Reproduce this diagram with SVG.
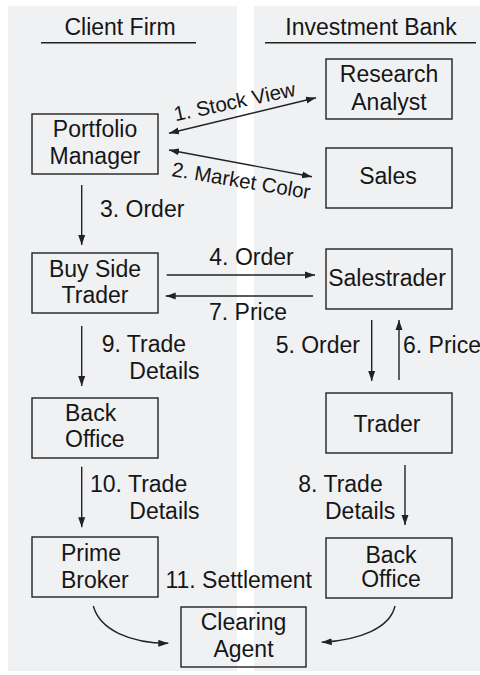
<svg xmlns="http://www.w3.org/2000/svg" width="480" height="675" viewBox="0 0 480 675">
<style>
text{font-family:"Liberation Sans",Arial,Helvetica,sans-serif;font-size:23px;fill:#161616}
.c{text-anchor:middle}
.e{text-anchor:end}
.box{fill:none;stroke:#222;stroke-width:1.4}
.ln{fill:none;stroke:#222;stroke-width:1.4}
.a{marker-end:url(#ah)}
.b{marker-start:url(#ah);marker-end:url(#ah)}
.rot{font-size:20.5px}
.panel{fill:#f0f1f3}
</style>
<defs>
<marker id="ah" markerUnits="userSpaceOnUse" markerWidth="10" markerHeight="8" refX="10" refY="3.5" orient="auto-start-reverse" viewBox="0 0 10 7">
<path d="M0,0 L10,3.5 L0,7 z" fill="#222"/>
</marker>
</defs>
<rect width="480" height="675" fill="#fff"/>
<rect class="panel" x="8" y="6" width="229" height="665"/>
<rect class="panel" x="254" y="6" width="226" height="665"/>
<g id="headers">
<text class="c" x="120" y="35">Client Firm</text>
<line class="ln" x1="41" y1="42.7" x2="196" y2="42.7"/>
<text class="c" x="371" y="35">Investment Bank</text>
<line class="ln" x1="265" y1="42.7" x2="476" y2="42.7"/>
</g>
<g id="portfolio-manager">
<rect class="box" x="32" y="114" width="126" height="60"/>
<text class="c" x="95" y="137">Portfolio</text>
<text class="c" x="95" y="164">Manager</text>
</g>
<g id="research-analyst">
<rect class="box" x="326" y="59" width="126" height="60"/>
<text class="c" x="389" y="82">Research</text>
<text class="c" x="389" y="110">Analyst</text>
</g>
<g id="sales">
<rect class="box" x="326" y="148" width="126" height="60"/>
<text class="c" x="388" y="184">Sales</text>
</g>
<g id="buy-side-trader">
<rect class="box" x="32" y="253" width="126" height="60"/>
<text class="c" x="95" y="277">Buy Side</text>
<text class="c" x="95" y="303">Trader</text>
</g>
<g id="salestrader">
<rect class="box" x="326" y="249" width="126" height="60"/>
<text class="c" x="387" y="286">Salestrader</text>
</g>
<g id="back-office-client">
<rect class="box" x="32" y="398" width="126" height="60"/>
<text x="65" y="421">Back</text>
<text x="65" y="447">Office</text>
</g>
<g id="trader">
<rect class="box" x="326" y="393" width="126" height="60"/>
<text class="c" x="387" y="432">Trader</text>
</g>
<g id="prime-broker">
<rect class="box" x="32" y="537" width="126" height="60"/>
<text x="61" y="561">Prime</text>
<text x="61" y="588">Broker</text>
</g>
<g id="back-office-bank">
<rect class="box" x="326" y="538" width="126" height="60"/>
<text class="c" x="391" y="563">Back</text>
<text class="c" x="391" y="587">Office</text>
</g>
<g id="clearing-agent">
<rect class="box" x="181" y="607" width="125" height="60"/>
<text class="c" x="243.5" y="630">Clearing</text>
<text class="c" x="243.5" y="657">Agent</text>
</g>
<g id="connectors">
<line class="ln b" x1="169" y1="133.3" x2="316" y2="97.7"/>
<text class="c rot" transform="translate(236,108.5) rotate(-12)">1. Stock View</text>
<line class="ln b" x1="169" y1="150" x2="312" y2="176.7"/>
<text class="c rot" transform="translate(240,187.5) rotate(9.5)">2. Market Color</text>
<line class="ln a" x1="81.7" y1="185" x2="81.7" y2="245"/>
<text x="100" y="216.7">3. Order</text>
<line class="ln a" x1="166.7" y1="275" x2="315" y2="275"/>
<text class="c" x="251.5" y="265">4. Order</text>
<line class="ln a" x1="313" y1="296" x2="165.7" y2="296"/>
<text class="c" x="248" y="320">7. Price</text>
<line class="ln a" x1="81.7" y1="326" x2="81.7" y2="386"/>
<text x="101.7" y="351.7">9. Trade</text>
<text x="129.3" y="379.3">Details</text>
<line class="ln a" x1="371.7" y1="320" x2="371.7" y2="381"/>
<text class="e" x="360" y="352.7">5. Order</text>
<line class="ln a" x1="399" y1="380" x2="399" y2="320"/>
<text x="403" y="352.7">6. Price</text>
<line class="ln a" x1="81.7" y1="466.7" x2="81.7" y2="527.3"/>
<text x="90" y="491.7">10. Trade</text>
<text x="129.3" y="519.3">Details</text>
<line class="ln a" x1="405" y1="465" x2="405" y2="525"/>
<text x="298.3" y="491.7">8. Trade</text>
<text x="325" y="519.3">Details</text>
<text class="c" x="238.7" y="588.3">11. Settlement</text>
<path class="ln a" d="M93.3,606 C100,630 130,643 168.3,643.3"/>
<path class="ln a" d="M395,606 C390,628 360,640 321.7,642.3"/>
</g>
</svg>
